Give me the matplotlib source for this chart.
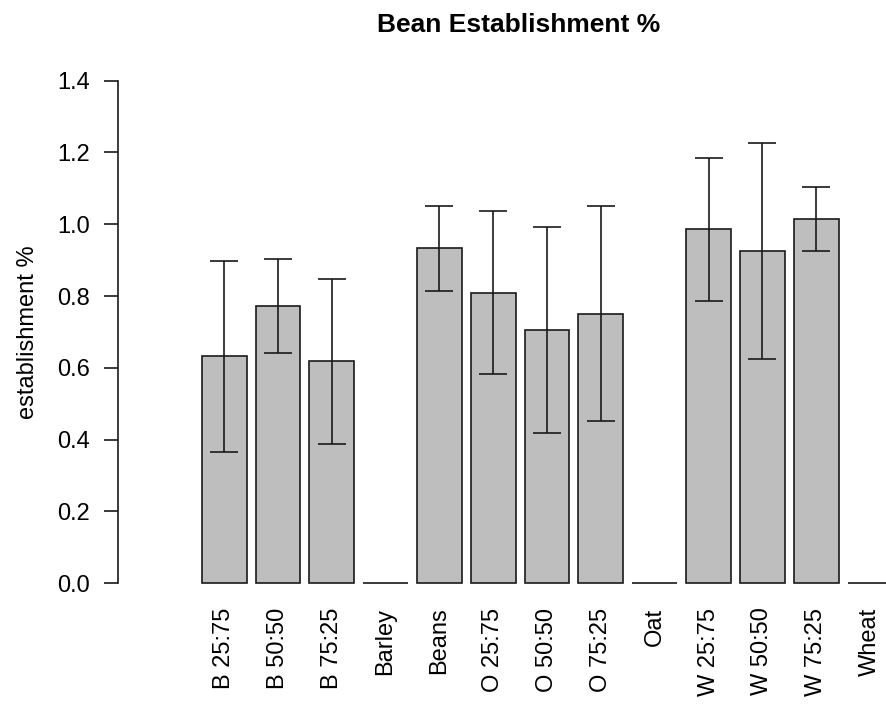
import numpy as np
import matplotlib
matplotlib.use('Agg')
import matplotlib.pyplot as plt

plt.rcParams['font.family'] = ['Liberation Sans', 'DejaVu Sans']

labels = ['B 25:75', 'B 50:50', 'B 75:25', 'Barley', 'Beans', 'O 25:75', 'O 50:50',
          'O 75:25', 'Oat', 'W 25:75', 'W 50:50', 'W 75:25', 'Wheat']
means = [0.632, 0.772, 0.618, 0.0, 0.933, 0.809, 0.705, 0.751, 0.0, 0.986, 0.926, 1.015, 0.0]
errs = [0.266, 0.131, 0.229, 0.0, 0.119, 0.227, 0.287, 0.300, 0.0, 0.199, 0.300, 0.088, 0.0]

W, H = 886, 704
fig = plt.figure(figsize=(W / 100, H / 100), dpi=100)

# R barplot style: width 1, space 0.2
x = 0.7 + 1.2 * np.arange(len(labels))
px_unit = 44.85
x_left = 0.2 - (201.7 - 118) / px_unit
x_right = x_left + (W - 118) / px_unit

py_unit = 359.0
y0_px = 583.3
ylo, yhi = -0.056, 1.456
ax_bottom = H - (y0_px - ylo * py_unit)
ax_height = (yhi - ylo) * py_unit
ax = fig.add_axes([118 / W, ax_bottom / H, (W - 118) / W, ax_height / H])

lw = 1.2
ax.bar(x, means, width=1.0, color='#bebebe', edgecolor='#1a1a1a', linewidth=lw)

means_a = np.array(means)
errs_a = np.array(errs)
m = errs_a > 0
ax.errorbar(x[m], means_a[m], yerr=errs_a[m], fmt='none', ecolor='#1a1a1a',
            elinewidth=lw, capsize=9.8, capthick=lw)

ax.set_xlim(x_left, x_right)
ax.set_ylim(ylo, yhi)

for s in ['top', 'right', 'bottom']:
    ax.spines[s].set_visible(False)
ax.spines['left'].set_bounds(0, 1.4)
ax.spines['left'].set_linewidth(lw)
ax.spines['left'].set_color('#1a1a1a')

ax.set_yticks(np.arange(0, 1.41, 0.2))
ax.set_yticklabels([f'{v:.1f}' for v in np.arange(0, 1.41, 0.2)])
ax.tick_params(axis='y', length=10, width=lw, pad=10, labelsize=17, color='#1a1a1a')

ax.set_xticks(x)
ax.set_xticklabels(labels, rotation=90, fontsize=17)
ax.tick_params(axis='x', length=0, pad=3)

fig.text(28 / W, (H - 332) / H, 'establishment %', rotation=90, ha='center',
         va='center', fontsize=17)
fig.text(519 / W, (H - 25) / H, 'Bean Establishment %', ha='center', va='center',
         fontsize=19, fontweight='bold')

fig.savefig('out.png', dpi=100)
